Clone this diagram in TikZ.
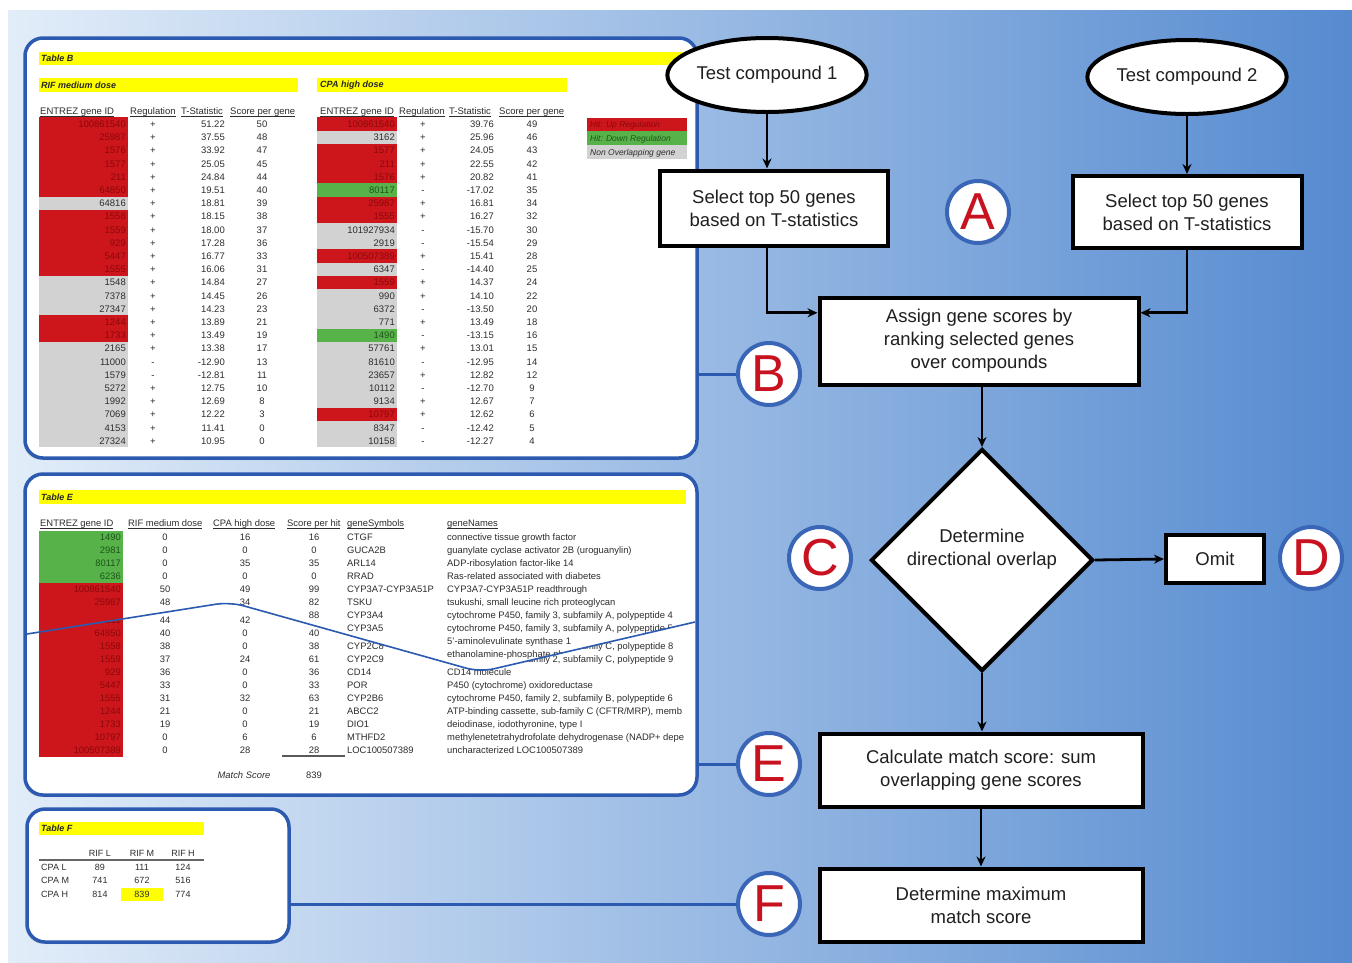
\documentclass[tikz,border=0pt]{standalone}
\usepackage{fontspec}
\setmainfont{Liberation Sans}
\usetikzlibrary{shapes.geometric, arrows.meta, shadows, positioning, calc}

\definecolor{panelblue}{RGB}{44,90,176}
\definecolor{tagblue}{RGB}{58,102,184}
\definecolor{tagred}{RGB}{200,18,32}
\definecolor{cellR}{RGB}{204,22,28}
\definecolor{cellG}{RGB}{88,178,74}
\definecolor{cellN}{RGB}{210,210,210}
\definecolor{txtR}{RGB}{140,8,10}
\definecolor{txtG}{RGB}{28,86,24}
\definecolor{txtN}{RGB}{45,45,45}
\definecolor{hiyel}{RGB}{255,255,0}
\definecolor{bgleft}{RGB}{226,237,249}
\definecolor{bgright}{RGB}{86,139,208}

\newcommand{\tbsize}{\fontsize{9.5}{10}\selectfont}
\newcommand{\tesize}{\fontsize{9.4}{10}\selectfont}
\newcommand{\tfsize}{\fontsize{9}{10}\selectfont}
\newcommand{\hdrul}[1]{\setbox0\hbox{#1}\rlap{\rule[-1.8pt]{\wd0}{0.7pt}}\box0}

\begin{document}
\begin{tikzpicture}[x=1pt,y=-1pt,
    panel/.style={draw=panelblue,line width=3.5pt,fill=white,rounded corners=18pt,inner sep=0pt,
      drop shadow={shadow xshift=-1.5pt,shadow yshift=-2pt,opacity=.25}},
    tag/.style={circle,draw=tagblue,line width=4pt,fill=white,minimum size=62pt,inner sep=0pt,
      text=tagred,font=\fontsize{52}{52}\selectfont,
      drop shadow={shadow xshift=1.5pt,shadow yshift=-2pt,opacity=.3}},
    link/.style={draw=panelblue,line width=3pt},
    flow/.style={draw,line width=4pt,fill=white,align=center,text=black!88,
      font=\fontsize{18.5}{23}\selectfont,
      drop shadow={shadow xshift=2pt,shadow yshift=-2pt,opacity=.35}},
    flowtxt/.style={align=center,text=black!88,font=\fontsize{18.5}{23}\selectfont,inner sep=0pt},
    term/.style={flow,ellipse,minimum width=198pt,minimum height=74pt,inner sep=0pt},
    stepbox/.style={flow,rectangle,inner sep=0pt},
    decide/.style={flow,diamond,minimum size=222pt,inner sep=0pt},
    arr/.style={line width=2.8pt,-{Stealth[length=10pt,width=9pt]}},
    tb/.style={inner sep=0pt,text height=6.8pt,text depth=0pt,font=\tbsize,text=txtN},
    te/.style={tb,font=\tesize},
    tf/.style={tb,font=\tfsize},
    hdr/.style={tb,anchor=west},
    bar/.style={fill=hiyel},
    bartxt/.style={inner sep=0pt,anchor=west,font=\fontsize{9}{10}\selectfont\bfseries\itshape,text=black!85},
    lgtxt/.style={tb,anchor=west,font=\fontsize{8.5}{9}\selectfont\itshape},
  ]

  \useasboundingbox (0,0) rectangle (1352,962);
  \fill[white] (0,0) rectangle (1352,962);
  \shade[left color=bgleft,right color=bgright] (8,10) rectangle (1352,962);

  % panels
  \node[panel,minimum width=672pt,minimum height=420pt] (pnlB) at (361,248) {};
  \node[panel,minimum width=672pt,minimum height=321pt] (pnlE) at (361,634.5) {};
  \node[panel,minimum width=262pt,minimum height=133pt] (pnlF) at (158,875.5) {};

  % table B
  \fill[bar] (39,52) rectangle (690,65);
  \node[bartxt] (ttlB) at (41,58.5) {Table B};
  \fill[bar] (39,78) rectangle (298,92);
  \node[bartxt] (ttlRif) at (41,85) {RIF medium dose};
  \fill[bar] (317,78) rectangle (567,92);
  \node[bartxt] (ttlCpa) at (320,85) {CPA high dose};

  \foreach \hx/\htxt [count=\k] in {40/ENTREZ gene ID,130/Regulation,181/T-Statistic,230/Score per gene,320/ENTREZ gene ID,399/Regulation,449/T-Statistic,499/Score per gene}
    \node[hdr] (hB\k) at (\hx,111) {\hdrul{\htxt}};

  \foreach \gid/\rg/\ts/\sc/\cl [count=\i] in {100861540/+/51.22/50/R, 25987/+/37.55/48/R,
      1576/+/33.92/47/R, 1577/+/25.05/45/R, 211/+/24.84/44/R, 64850/+/19.51/40/R,
      64816/+/18.81/39/N, 1558/+/18.15/38/R, 1559/+/18.00/37/R, 929/+/17.28/36/R,
      5447/+/16.77/33/R, 1555/+/16.06/31/R, 1548/+/14.84/27/N, 7378/+/14.45/26/N,
      27347/+/14.23/23/N, 1244/+/13.89/21/R, 1733/+/13.49/19/R, 2165/+/13.38/17/N,
      11000/-/-12.90/13/N, 1579/-/-12.81/11/N, 5272/+/12.75/10/N, 1992/+/12.69/8/N,
      7069/+/12.22/3/N, 4153/+/11.41/0/N, 27324/+/10.95/0/N} {
    \pgfmathsetmacro{\ry}{124+13.2*(\i-1)}
    \fill[fill=cell\cl] (39,\ry-6.6) rectangle (128,\ry+6.6);
    \node[tb,anchor=east,text=txt\cl] (bl\i) at (126,\ry) {\gid};
    \node[tb] (blr\i) at (153,\ry) {\rg};
    \node[tb,anchor=east] (blt\i) at (225,\ry) {\ts};
    \node[tb] (bls\i) at (262,\ry) {\sc};
  }

  \foreach \gid/\rg/\ts/\sc/\cl [count=\i] in {100861540/+/39.76/49/R, 3162/+/25.96/46/N,
      1577/+/24.05/43/R, 211/+/22.55/42/R, 1576/+/20.82/41/R, 80117/-/-17.02/35/G,
      25987/+/16.81/34/R, 1555/+/16.27/32/R, 101927934/-/-15.70/30/N, 2919/-/-15.54/29/N,
      100507389/+/15.41/28/R, 6347/-/-14.40/25/N, 1559/+/14.37/24/R, 990/+/14.10/22/N,
      6372/-/-13.50/20/N, 771/+/13.49/18/N, 1490/-/-13.15/16/G, 57761/+/13.01/15/N,
      81610/-/-12.95/14/N, 23657/+/12.82/12/N, 10112/-/-12.70/9/N, 9134/+/12.67/7/N,
      10797/+/12.62/6/R, 8347/-/-12.42/5/N, 10158/-/-12.27/4/N} {
    \pgfmathsetmacro{\ry}{124+13.2*(\i-1)}
    \fill[fill=cell\cl] (317,\ry-6.6) rectangle (397,\ry+6.6);
    \node[tb,anchor=east,text=txt\cl] (br\i) at (395,\ry) {\gid};
    \node[tb] (brr\i) at (423,\ry) {\rg};
    \node[tb,anchor=east] (brt\i) at (494,\ry) {\ts};
    \node[tb] (brs\i) at (532,\ry) {\sc};
  }

  % legend
  \fill[cellR] (587,118) rectangle (687,131);
  \fill[cellG] (587,131) rectangle (687,145);
  \fill[cellN] (587,145) rectangle (687,159);
  \node[lgtxt,text=txtR] (lgR) at (590,124.5) {Hit: Up Regulation};
  \node[lgtxt,text=txtG] (lgG) at (590,138) {Hit: Down Regulation};
  \node[lgtxt,text=txtN] (lgN) at (590,152) {Non Overlapping gene};

  % table E
  \fill[bar] (39,490) rectangle (686,504);
  \node[bartxt] (ttlE) at (41,497) {Table E};
  \foreach \hx/\htxt [count=\k] in {40/ENTREZ gene ID,128/RIF medium dose,213/CPA high dose,287/Score per hit,347/geneSymbols,447/geneNames}
    \node[hdr,font=\tesize] (hE\k) at (\hx,523) {\hdrul{\htxt}};

  \def\generowsTop{1490/0/16/16/G/CTGF/connective tissue growth factor,
    2981/0/0/0/G/GUCA2B/guanylate cyclase activator 2B (uroguanylin),
    80117/0/35/35/G/ARL14/ADP-ribosylation factor-like 14,
    6236/0/0/0/G/RRAD/Ras-related associated with diabetes,
    100861540/50/49/99/R/CYP3A7-CYP3A51P/CYP3A7-CYP3A51P readthrough,
    25987/48/34/82/R/TSKU/{tsukushi, small leucine rich proteoglycan},
    1576/47/41/88/R/CYP3A4/{cytochrome P450, family 3, subfamily A, polypeptide 4},
    1577/45/43/88/R/CYP3A5/{cytochrome P450, family 3, subfamily A, polypeptide 5},
    211/44/42/86/R/ALAS1/5'-aminolevulinate synthase 1,
    64850/40/0/40/R/ETNPPL/ethanolamine-phosphate phospho-lyase}
  \def\generowsBot{211/44/42/86/R/ALAS1/5'-aminolevulinate synthase 1,
    64850/40/0/40/R/ETNPPL/ethanolamine-phosphate phospho-lyase,
    1558/38/0/38/R/CYP2C8/{cytochrome P450, family 2, subfamily C, polypeptide 8},
    1559/37/24/61/R/CYP2C9/{cytochrome P450, family 2, subfamily C, polypeptide 9},
    929/36/0/36/R/CD14/CD14 molecule,
    5447/33/0/33/R/POR/P450 (cytochrome) oxidoreductase,
    1555/31/32/63/R/CYP2B6/{cytochrome P450, family 2, subfamily B, polypeptide 6},
    1244/21/0/21/R/ABCC2/{ATP-binding cassette, sub-family C (CFTR/MRP), memb},
    1733/19/0/19/R/DIO1/{deiodinase, iodothyronine, type I},
    10797/0/6/6/R/MTHFD2/methylenetetrahydrofolate dehydrogenase (NADP+ depe,
    100507389/0/28/28/R/LOC100507389/uncharacterized LOC100507389}

  % upper piece of the torn table
  \begin{scope}
    \clip[rounded corners=14pt] (27,476) -- (690,476) -- (690,623) -- (480,672) -- (230,602) -- (27,634) -- cycle;
    \foreach \gid/\rif/\cpa/\hit/\cl/\sym/\gname [count=\i from 0] in \generowsTop {
      \pgfmathsetmacro{\ry}{537+13*\i}
      \fill[fill=cell\cl] (39,\ry-6.5) rectangle (123,\ry+6.5);
      \ifnum\i<6
        \node[te,anchor=east,text=txt\cl] (eu\i) at (121,\ry) {\gid};
        \node[te] (eur\i) at (165,\ry) {\rif};
        \node[te] (euc\i) at (245,\ry) {\cpa};
      \fi
      \ifnum\i<7
        \node[te] (euh\i) at (314,\ry) {\hit};
      \fi
      \ifnum\i<8
        \node[te,anchor=west] (eus\i) at (347,\ry) {\sym};
      \fi
      \node[te,anchor=west] (eun\i) at (447,\ry) {\gname};
    }
  \end{scope}
  % lower piece
  \begin{scope}
    \clip[rounded corners=14pt] (27,634) -- (230,602) -- (480,672) -- (690,623) -- (690,793) -- (27,793) -- cycle;
    \foreach \gid/\rif/\cpa/\hit/\cl/\sym/\gname [count=\i from 8] in \generowsBot {
      \pgfmathsetmacro{\ry}{516+13*\i}
      \fill[fill=cell\cl] (39,\ry-6.5) rectangle (123,\ry+6.5);
      \node[te,anchor=east,text=txt\cl] (el\i) at (121,\ry) {\gid};
      \node[te] (elr\i) at (165,\ry) {\rif};
      \node[te] (elc\i) at (245,\ry) {\cpa};
      \ifnum\i>8
        \node[te] (elh\i) at (314,\ry) {\hit};
        \node[te,anchor=west] (els\i) at (347,\ry) {\sym};
      \fi
      \ifnum\i>9
        \node[te,anchor=west] (eln\i) at (447,\ry) {\gname};
      \fi
    }
  \end{scope}
  \draw[panelblue,line width=1.6pt,rounded corners=14pt] (27,634) -- (230,602) -- (480,672) -- (695,622);

  \draw[line width=1.6pt,black!65] (282,756) -- (345,756);
  \node[te,font=\tesize\itshape] (mtxt) at (244,775) {Match Score};
  \node[te] (mval) at (314,775) {839};

  % table F
  \fill[bar] (39,822) rectangle (204,835);
  \node[bartxt] (ttlF) at (41,828.5) {Table F};
  \foreach \cx/\ctxt [count=\k] in {100/RIF L,142/RIF M,183/RIF H}
    \node[tf] (fh\k) at (\cx,853) {\ctxt};
  \draw[line width=1.8pt,black!60] (39,860) -- (204,860);
  \fill[hiyel] (121,888) rectangle (163,900.5);
  \foreach \rl/\va/\vb/\vc [count=\k] in {CPA L/89/111/124,CPA M/741/672/516,CPA H/814/839/774} {
    \pgfmathsetmacro{\ry}{867+13.5*(\k-1)}
    \node[tf,anchor=west] (fr\k) at (41,\ry) {\rl};
    \node[tf] (fa\k) at (100,\ry) {\va};
    \node[tf] (fb\k) at (142,\ry) {\vb};
    \node[tf] (fc\k) at (183,\ry) {\vc};
  }

  % flow chart
  \node[term] (tc1) at (767,75) {Test compound 1};
  \node[term] (tc2) at (1187,77) {Test compound 2};
  \node[stepbox,minimum width=228pt,minimum height=75pt] (sel1) at (774,208) {Select top 50 genes\\based on T-statistics};
  \node[stepbox,minimum width=229pt,minimum height=72pt] (sel2) at (1187,212) {Select top 50 genes\\based on T-statistics};
  \node[stepbox,minimum width=319pt,minimum height=87pt] (asg) at (979,341) {Assign gene scores by\\ranking selected genes\\over compounds};
  \node[decide] (ovl) at (982,560) {};
  \node[flowtxt] (ovltxt) at (982,549) {Determine\\directional overlap};
  \node[stepbox,minimum width=98pt,minimum height=48pt] (omit) at (1215,559) {Omit};
  \node[stepbox,minimum width=323pt,minimum height=73pt] (calc) at (981,770) {Calculate match score: sum\\overlapping gene scores};
  \node[stepbox,minimum width=323pt,minimum height=73pt] (maxs) at (981,905) {Determine maximum\\match score};

  \draw[arr] (tc1.south) -- (tc1.south |- sel1.north);
  \draw[arr] (tc2.south) -- (sel2.north);
  \draw[arr] (tc1.south |- sel1.south) |- ($(asg.north west)!.19!(asg.south west)$);
  \draw[arr] (sel2.south) |- ($(asg.north east)!.19!(asg.south east)$);
  \draw[arr] (ovl.north |- asg.south) -- (ovl.north);
  \draw[arr] (ovl.east) -- (omit.west);
  \draw[arr] (ovl.south) -- (ovl.south |- calc.north);
  \draw[arr] (calc.south) -- (maxs.north);

  % tags
  \node[tag] (tagA) at (978,212) {A};
  \node[tag] (tagB) at (769,374) {B};
  \node[tag] (tagC) at (820,558) {C};
  \node[tag] (tagD) at (1311,558) {D};
  \node[tag] (tagE) at (769,764) {E};
  \node[tag] (tagF) at (769,904) {F};

  \draw[link] (pnlB.east |- tagB) -- (tagB);
  \draw[link] (pnlE.east |- tagE) -- (tagE);
  \draw[link] (pnlF.east |- tagF) -- (tagF);

\end{tikzpicture}
\end{document}
